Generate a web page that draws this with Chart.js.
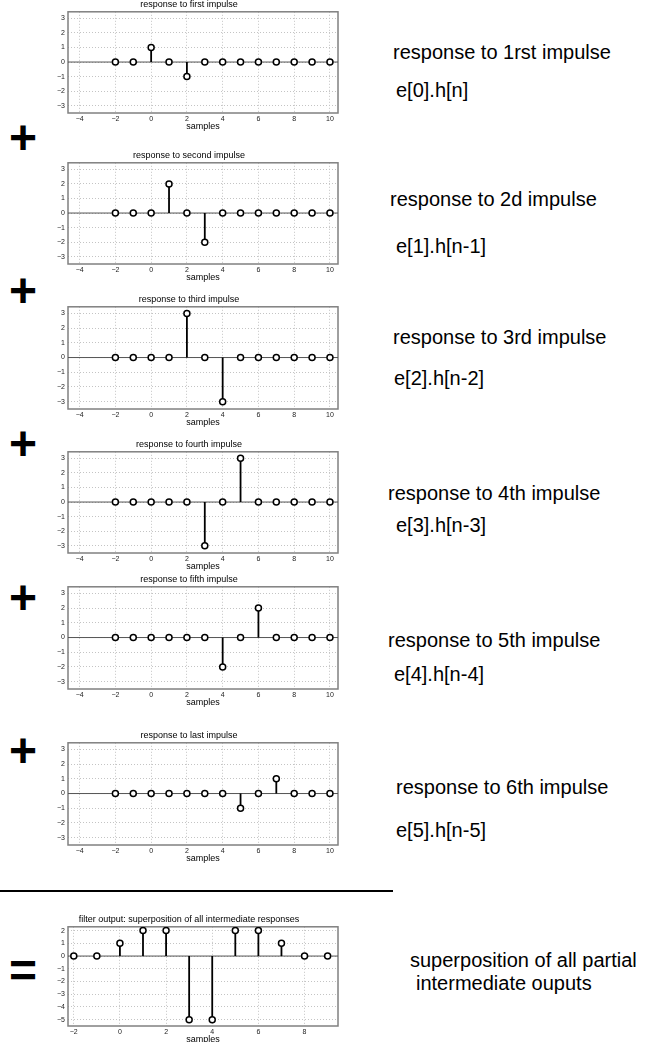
<!DOCTYPE html>
<html>
<head>
<meta charset="utf-8">
<script src="https://cdn.jsdelivr.net/npm/chart.js@4.4.1/dist/chart.umd.min.js"></script>
<style>
  body { margin: 0; background: #fff; width: 654px; height: 1042px; position: relative; overflow: hidden;
         font-family: "Liberation Sans", Arial, sans-serif; }
  canvas { position: absolute; left: 40px; }
  .lbl { position: absolute; font-size: 20px; line-height: 24px; color: #000; white-space: nowrap; }
  .sign { position: absolute; left: 9px; font-size: 48px; font-weight: bold; line-height: 48px; }
  .rule { position: absolute; left: 0; top: 890px; width: 393px; height: 2px; background: #000; }
</style>
</head>
<body>

<canvas id="c1" width="310" height="134" style="top:-2px"></canvas>
<canvas id="c2" width="310" height="134" style="top:149px"></canvas>
<canvas id="c3" width="310" height="135" style="top:293px"></canvas>
<canvas id="c4" width="310" height="134" style="top:438px"></canvas>
<canvas id="c5" width="310" height="135" style="top:573px"></canvas>
<canvas id="c6" width="310" height="135" style="top:729px"></canvas>
<canvas id="c7" width="310" height="132" style="top:913px"></canvas>

<div class="sign" style="top:114px">+</div>
<div class="sign" style="top:267px">+</div>
<div class="sign" style="top:420px">+</div>
<div class="sign" style="top:574px">+</div>
<div class="sign" style="top:727px">+</div>
<div class="rule"></div>
<div class="sign" style="top:947px">=</div>

<div class="lbl" style="left:393px;top:40px">response to 1rst impulse</div>
<div class="lbl" style="left:396px;top:78px">e[0].h[n]</div>
<div class="lbl" style="left:390px;top:187px">response to 2d impulse</div>
<div class="lbl" style="left:396px;top:234px">e[1].h[n-1]</div>
<div class="lbl" style="left:393px;top:325px">response to 3rd impulse</div>
<div class="lbl" style="left:394px;top:366px">e[2].h[n-2]</div>
<div class="lbl" style="left:388px;top:481px">response to 4th impulse</div>
<div class="lbl" style="left:396px;top:513px">e[3].h[n-3]</div>
<div class="lbl" style="left:388px;top:628px">response to 5th impulse</div>
<div class="lbl" style="left:394px;top:662px">e[4].h[n-4]</div>
<div class="lbl" style="left:396px;top:775px">response to 6th impulse</div>
<div class="lbl" style="left:396px;top:818px">e[5].h[n-5]</div>
<div class="lbl" style="left:410px;top:948px">superposition of all partial</div>
<div class="lbl" style="left:416px;top:971px">intermediate ouputs</div>

<script>
// sample indices and stem values
const samples = [-2, -1, 0, 1, 2, 3, 4, 5, 6, 7, 8, 9, 10];
const resp1 = [0, 0, 1, 0, -1, 0, 0, 0, 0, 0, 0, 0, 0];
const resp2 = [0, 0, 0, 2, 0, -2, 0, 0, 0, 0, 0, 0, 0];
const resp3 = [0, 0, 0, 0, 3, 0, -3, 0, 0, 0, 0, 0, 0];
const resp4 = [0, 0, 0, 0, 0, -3, 0, 3, 0, 0, 0, 0, 0];
const resp5 = [0, 0, 0, 0, 0, 0, -2, 0, 2, 0, 0, 0, 0];
const resp6 = [0, 0, 0, 0, 0, 0, 0, -1, 0, 1, 0, 0, 0];
const outSamples = [-2, -1, 0, 1, 2, 3, 4, 5, 6, 7, 8, 9];
const output = [0, 0, 1, 2, 2, -5, -5, 2, 2, 1, 0, 0];

const titles = [
  "response to first impulse",
  "response to second impulse",
  "response to third impulse",
  "response to fourth impulse",
  "response to fifth impulse",
  "response to last impulse",
  "filter output: superposition of all intermediate responses"
];

// tick labels
const xTicksPartial = [-4, -2, 0, 2, 4, 6, 8, 10];
const yTicksPartial = [-3, -2, -1, 0, 1, 2, 3];
const xTicksOut = [-2, 0, 2, 4, 6, 8];
const yTicksOut = [-5, -4, -3, -2, -1, 0, 1, 2];

const FONT = '"Liberation Sans", Arial, sans-serif';

// box around the plot area, like matlab axes
const frame = {
  id: "frame",
  beforeDatasetsDraw(chart) {
    const a = chart.chartArea;
    const ctx = chart.ctx;
    ctx.save();
    ctx.strokeStyle = "#808080";
    ctx.lineWidth = 1.5;
    ctx.strokeRect(a.left, a.top, a.right - a.left, a.bottom - a.top);
    ctx.restore();
  }
};

function fmt(v) {
  return String(v).replace("-", "\u2212");
}

function stemChart(id, xs, vals, title, xTicks, yTicks, xMin, xMax, yMin, yMax) {
  const stems = [];
  xs.forEach((n, i) => {
    if (vals[i] !== 0) stems.push({ x: n, y: 0 }, { x: n, y: vals[i] }, { x: n, y: null });
  });
  const markers = xs.map((n, i) => ({ x: n, y: vals[i] }));

  return new Chart(document.getElementById(id), {
    type: "scatter",
    data: {
      datasets: [
        {
          data: markers,
          pointRadius: 3,
          pointBorderWidth: 1.5,
          pointBackgroundColor: "#fff",
          pointBorderColor: "#000"
        },
        {
          data: stems,
          showLine: true,
          borderColor: "#000",
          borderWidth: 1.8,
          pointRadius: 0,
          spanGaps: false
        },
        {
          data: [{ x: xMin, y: 0 }, { x: xMax, y: 0 }],
          showLine: true,
          borderColor: "#555",
          borderWidth: 1,
          pointRadius: 0
        }
      ]
    },
    options: {
      responsive: false,
      animation: false,
      devicePixelRatio: 1,
      layout: { padding: { left: 0, right: 12, top: 0, bottom: 0 } },
      plugins: {
        legend: { display: false },
        tooltip: { enabled: false },
        title: {
          display: true,
          text: title,
          color: "#000",
          font: { family: FONT, size: 9, weight: "normal" },
          padding: { top: 1, bottom: 2 }
        }
      },
      scales: {
        x: {
          type: "linear",
          min: xMin,
          max: xMax,
          afterBuildTicks: s => { s.ticks = xTicks.map(v => ({ value: v })); },
          afterFit: s => { s.height = 19; },
          grid: { color: "#c4c4c4", lineWidth: 1, drawTicks: false },
          border: { display: false, dash: [1, 2] },
          ticks: { color: "#222", font: { family: FONT, size: 7 }, padding: 2, maxRotation: 0, callback: v => fmt(v) },
          title: { display: true, text: "samples", color: "#000", font: { family: FONT, size: 9 }, padding: 0 }
        },
        y: {
          type: "linear",
          min: yMin,
          max: yMax,
          afterBuildTicks: s => { s.ticks = yTicks.map(v => ({ value: v })); },
          afterFit: s => { s.width = 28; },
          grid: { color: "#c4c4c4", lineWidth: 1, drawTicks: false },
          border: { display: false, dash: [1, 2] },
          ticks: { color: "#222", font: { family: FONT, size: 7 }, padding: 3, callback: v => fmt(v) }
        }
      }
    },
    plugins: [frame]
  });
}

const partials = [resp1, resp2, resp3, resp4, resp5, resp6];
partials.forEach((r, i) => {
  stemChart("c" + (i + 1), samples, r, titles[i], xTicksPartial, yTicksPartial, -4.65, 10.45, -3.5, 3.45);
});
stemChart("c7", outSamples, output, titles[6], xTicksOut, yTicksOut, -2.25, 9.45, -5.5, 2.3);
</script>
</body>
</html>
